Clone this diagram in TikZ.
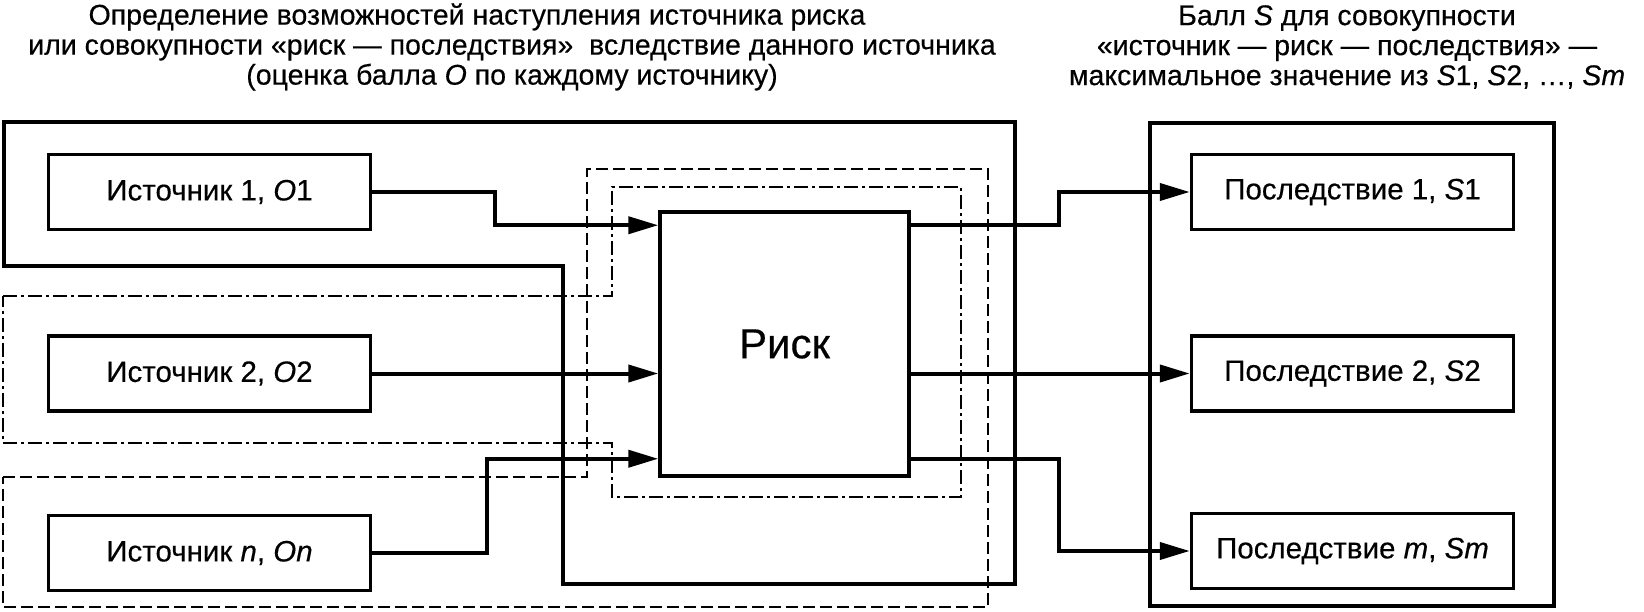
\documentclass[tikz,border=0pt]{standalone}
\usepackage{fontspec}
\setmainfont{Liberation Sans}[FakeBold=0.4]
\usetikzlibrary{arrows.meta,positioning}

\begin{document}
\begin{tikzpicture}[
    x=1pt, y=-1pt,
    box/.style={rectangle, draw, line width=3.5pt, minimum width=322pt, minimum height=75pt, inner sep=0pt, font=\fontsize{29.5}{32}\selectfont},
    riskbox/.style={rectangle, draw, line width=3.5pt, minimum width=249pt, minimum height=264pt, inner sep=0pt, font=\fontsize{42}{46}\selectfont},
    arrow/.style={-{Triangle[length=30pt,width=17pt]}, line width=4pt},
    grpsolid/.style={line width=3.5pt},
    grpdash/.style={line width=2pt, dash pattern=on 12pt off 5pt},
    grpdashdot/.style={line width=2pt, dash pattern=on 14pt off 4pt on 3pt off 4pt},
    title/.style={align=center, font=\fontsize{28.5}{30}\selectfont}
]
    \useasboundingbox (0,0) rectangle (1644,612);

    % Titles
    \node[title] (ttlsrc) at (512,47) {Определение возможностей наступления источника риска\hspace*{70pt}\\или совокупности «риск — последствия» \ вследствие данного источника\\(оценка балла \textit{O} по каждому источнику)};
    \node[title] (ttlcon) at (1347,47) {Балл \textit{S} для совокупности\\«источник — риск — последствия» —\\максимальное значение из \textit{S}1, \textit{S}2, …, \textit{Sm}};

    % Groups of sources
    \draw[grpsolid] (4,122) -- (1015,122) -- (1015,584) -- (563,584) -- (563,266) -- (4,266) -- cycle;
    \draw[grpdashdot] (3,296) -- (612,296) -- (612,187) -- (961,187) -- (961,497) -- (612,497) -- (612,443) -- (3,443) -- cycle;
    \draw[grpdash] (3,477) -- (587,477) -- (587,169) -- (988,169) -- (988,607) -- (3,607) -- cycle;
    \draw[grpsolid] (1150,123) rectangle (1554,606);

    % Sources
    \node[box] (src1) at (209.5,192) {Источник 1, \textit{O}1};
    \node[box, below=103pt of src1] (src2) {Источник 2, \textit{O}2};
    \node[box, below=101pt of src2] (srcn) {Источник \textit{n}, \textit{On}};

    % Risk
    \node[riskbox] (risk) at (784.5,344) {Риск};

    % Consequences
    \node[box] (con1) at (1352.5,192) {Последствие 1, \textit{S}1};
    \node[box, below=103pt of con1] (con2) {Последствие 2, \textit{S}2};
    \node[box, below=99pt of con2] (conm) {Последствие \textit{m}, \textit{Sm}};

    \coordinate (rin1) at ([yshift=-15pt]risk.north west);
    \coordinate (rin3) at ([yshift=19pt]risk.south west);
    \coordinate (rout1) at ([yshift=-15pt]risk.north east);
    \coordinate (rout3) at ([yshift=19pt]risk.south east);

    % Arrows
    \draw[arrow] (src1.east) -- ++(123,0) |- (rin1);
    \draw[arrow] (src2.east) -- (src2.east -| risk.west);
    \draw[arrow] (srcn.east) -- ++(115,0) |- (rin3);
    \draw[arrow] (rout1) -- ++(148,0) |- (con1.west);
    \draw[arrow] (risk.east |- con2.west) -- (con2.west);
    \draw[arrow] (rout3) -- ++(148,0) |- (conm.west);
\end{tikzpicture}
\end{document}
